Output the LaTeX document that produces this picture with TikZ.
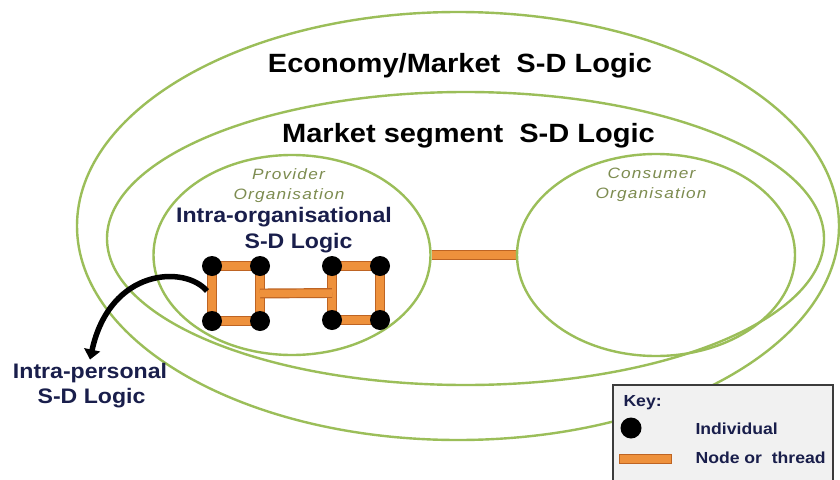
\documentclass[tikz,border=0pt]{standalone}
\usepackage{fontspec}
\setmainfont{Liberation Sans}[FakeStretch=1.1]
\newfontfamily\orgfont{Liberation Sans}[FakeStretch=1.15,LetterSpace=8]
\usetikzlibrary{shapes.geometric,arrows.meta,calc}
\definecolor{ringgreen}{RGB}{155,190,89}
\definecolor{threadfill}{RGB}{238,145,60}
\definecolor{threadedge}{RGB}{190,100,35}
\definecolor{orgtext}{RGB}{125,140,80}
\definecolor{keyblue}{RGB}{25,30,75}
\definecolor{keygray}{RGB}{241,241,241}
\definecolor{keyedge}{RGB}{60,60,60}
\pgfdeclarelayer{bg}
\pgfsetlayers{bg,main}

\begin{document}
\begin{tikzpicture}[x=1pt,y=-1pt,
		ring/.style={ellipse,draw=ringgreen,line width=2.4pt,inner sep=0pt},
		individual/.style={circle,fill=black,minimum size=20pt,inner sep=0pt},
		thread/.style={draw=threadedge,line width=1.2pt,double=threadfill,double distance=7.5pt},
		title/.style={font=\bfseries\fontsize{26.4}{30}\selectfont,anchor=base},
		logic/.style={font=\bfseries\fontsize{21}{25}\selectfont,text=keyblue,anchor=base},
		orglabel/.style={font=\orgfont\itshape\fontsize{15}{18}\selectfont,text=orgtext,anchor=base},
		keytext/.style={font=\bfseries\fontsize{16}{19}\selectfont,text=keyblue,anchor=base west}]
		\useasboundingbox (0,0) rectangle (840,479);
		\clip (0,0) rectangle (840,479);
		\node[ring,minimum width=762pt,minimum height=428pt] (economy) at (458,226) {};
		\node[ring,minimum width=717pt,minimum height=293pt] (segment) at (465.5,238.5) {};
		\node[ring,minimum width=277pt,minimum height=200pt] (provider) at (292,255) {};
		\node[ring,minimum width=278pt,minimum height=202pt] (consumer) at (656,255) {};
		\node[title] (econtitle) at (460,72) {Economy/Market\ \ S-D Logic};
		\node[title] (segtitle) at (468.5,142) {Market segment\ \ S-D Logic};
		\node[orglabel] (prov1) at (288.5,179.3) {Provider};
		\node[orglabel] (prov2) at (289,199.3) {Organisation};
		\node[orglabel] (cons1) at (651.5,178.3) {Consumer};
		\node[orglabel] (cons2) at (651,198.3) {Organisation};
		\node[logic] (iorg1) at (284,222.7) {Intra-organisational};
		\node[logic] (iorg2) at (298.5,248.3) {S-D Logic};
		\node[logic] (ipers1) at (90,378.3) {Intra-personal};
		\node[logic] (ipers2) at (91.5,403.3) {S-D Logic};
		\node[individual] (p1) at (212,266) {};
		\node[individual] (p2) at (260,266) {};
		\node[individual] (p3) at (212,321) {};
		\node[individual] (p4) at (260,321) {};
		\node[individual] (p5) at (332,266) {};
		\node[individual] (p6) at (380,266) {};
		\node[individual] (p7) at (332,320) {};
		\node[individual] (p8) at (380,320) {};
		\coordinate (leftmid) at ($(p2)!.5!(p4)$);
		\coordinate (rightmid) at ($(p5)!.5!(p7)$);
		\coordinate (selfstart) at (207,291);
		\begin{pgfonlayer}{bg}
			\fill[white] (0,0) rectangle (840,479);
			\foreach \a/\b in {p1/p2,p3/p4,p1/p3,p2/p4,p5/p6,p7/p8,p5/p7,p6/p8}
				\draw[thread] (\a.center) -- (\b.center);
			\draw[thread] (leftmid) -- (rightmid);
			\draw[thread] (provider.east) -- (consumer.west);
		\end{pgfonlayer}
		\draw[line width=5.5pt,-{Triangle[length=10pt,width=16pt]}]
			(selfstart) .. controls (185,265) and (110,268) .. (ipers1.north);
		\draw[draw=keyedge,line width=1.5pt,fill=keygray] (613,385) rectangle (833,490);
		\node[keytext] (keyhead) at (620,406.7) {Key:};
		\node[individual,minimum size=21pt] (keyind) at (631,428) {};
		\node[keytext] (keyindtext) at (692,434) {Individual};
		\node[draw=threadedge,line width=1.2pt,fill=threadfill,minimum width=52pt,minimum height=9pt,inner sep=0pt] (keythread) at (645.5,459) {};
		\node[keytext] (keythreadtext) at (692,463.3) {Node or\ \ thread};
	\end{tikzpicture}
\end{document}
